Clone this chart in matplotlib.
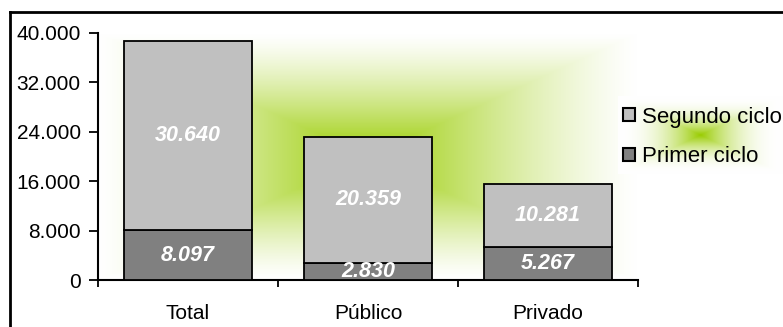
import numpy as np
import matplotlib.pyplot as plt
from matplotlib.lines import Line2D
from matplotlib.patches import Patch

plt.rcParams['font.family'] = ['Liberation Sans', 'DejaVu Sans']

categories = ["Total", "Público", "Privado"]
primer_ciclo = [8097, 2830, 5267]
segundo_ciclo = [30640, 20359, 10281]
y_ticks = [0, 8000, 16000, 24000, 32000, 40000]

W, H = 783, 327
GREEN = np.array([0.60, 0.80, 0.0])


def rect_gradient(nx, ny, gamma=1.3):
    """Rectangular 'from centre' gradient, green in the middle fading to white."""
    x = np.linspace(-1, 1, nx)
    y = np.linspace(-1, 1, ny)
    xx, yy = np.meshgrid(x, y)
    t = np.maximum(np.abs(xx), np.abs(yy))
    f = (1 - t) ** gamma
    img = 1 - f[..., None] * (1 - GREEN)
    return np.clip(img, 0, 1)


def fx(px):
    return px / W


def fy(py):
    return 1 - py / H


def fmt(v):
    return f"{v:,}".replace(",", ".")


fig = plt.figure(figsize=(W / 100, H / 100), dpi=100)

# outer frame (only left and top edges visible in the crop)
fig.add_artist(Line2D([fx(10), fx(10)], [0, fy(12)], color='black', lw=2))
fig.add_artist(Line2D([fx(10), 1], [fy(12), fy(12)], color='black', lw=2))

ax = fig.add_axes([fx(98), fy(280), fx(638) - fx(98), fy(33) - fy(280)])
ax.set_zorder(2)
ax.patch.set_visible(False)

# plot-area gradient
bg = fig.add_axes(ax.get_position().bounds)
bg.set_zorder(1)
bg.imshow(rect_gradient(400, 200), aspect='auto', extent=[0, 1, 0, 1])
bg.axis('off')

# legend-area gradient
lg = fig.add_axes([fx(618), fy(174), fx(783) - fx(618), fy(96) - fy(174)])
lg.set_zorder(1)
lg.imshow(rect_gradient(200, 100, gamma=2.2), aspect='auto', extent=[0, 1, 0, 1])
lg.axis('off')

x = np.arange(len(categories))
width = 0.71
ax.bar(x, primer_ciclo, width, color='#808080', edgecolor='black', lw=1.3, zorder=3)
ax.bar(x, segundo_ciclo, width, bottom=primer_ciclo, color='#C0C0C0',
       edgecolor='black', lw=1.3, zorder=3)

for i in range(len(categories)):
    ax.text(x[i], primer_ciclo[i] / 2, fmt(primer_ciclo[i]),
            ha='center', va='center', color='white', fontsize=15.5,
            fontweight='bold', fontstyle='italic', zorder=4)
    ax.text(x[i], primer_ciclo[i] + segundo_ciclo[i] / 2, fmt(segundo_ciclo[i]),
            ha='center', va='center', color='white', fontsize=15.5,
            fontweight='bold', fontstyle='italic', zorder=4)

ax.set_xlim(-0.5, len(categories) - 0.5)
ax.set_ylim(0, 40000)
ax.set_yticks(y_ticks)
ax.set_yticklabels([fmt(v) for v in y_ticks], fontsize=15)
ax.set_xticks(np.arange(len(categories) + 1) - 0.5)
ax.set_xticklabels([])
ax.set_xticks(x, minor=True)
ax.set_xticklabels(categories, minor=True, fontsize=15)
ax.tick_params(axis='x', which='major', direction='out', length=5, width=1.3)
ax.tick_params(axis='x', which='minor', length=0, pad=17)
ax.tick_params(axis='y', direction='out', length=6.5, width=1.3, pad=6)
for s in ['top', 'right']:
    ax.spines[s].set_visible(False)
for s in ['left', 'bottom']:
    ax.spines[s].set_linewidth(1.5)

handles = [Patch(facecolor='#C0C0C0', edgecolor='black', lw=1.5),
           Patch(facecolor='#808080', edgecolor='black', lw=1.5)]
fig.legend(handles, ["Segundo ciclo", "Primer ciclo"], loc='center left',
           bbox_to_anchor=(fx(623), fy(137)), frameon=False, fontsize=16,
           handlelength=0.55, handleheight=0.55, handletextpad=0.3,
           labelspacing=0.85, borderpad=0, borderaxespad=0)

fig.savefig("out.png", dpi=100)
